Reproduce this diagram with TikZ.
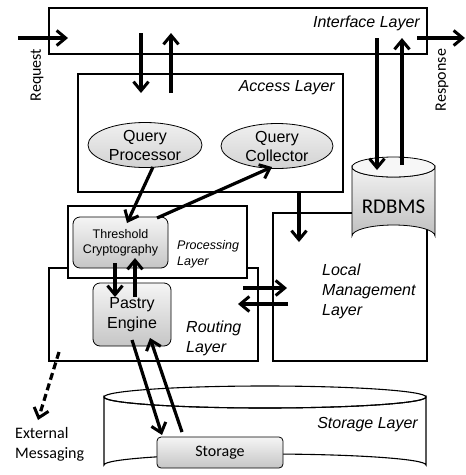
\documentclass[tikz,border=0pt]{standalone}
\usepackage{fontspec}
\setmainfont{Liberation Sans}
\newfontfamily\calfont{Carlito}
\usetikzlibrary{arrows.meta,shapes.geometric}
\begin{document}
\begin{tikzpicture}[x=1pt,y=-1pt,
  box/.style={draw,line width=1.1pt,fill=white,inner sep=0pt},
  grad/.style={draw,line width=0.8pt,rounded corners=7pt,top color=gray!8,bottom color=gray!45,inner sep=0pt,align=center},
  oval/.style={ellipse,draw,line width=0.8pt,top color=gray!12,bottom color=gray!35,inner sep=0pt,align=center,font=\fontsize{16}{19}\selectfont},
  lbl/.style={font=\fontsize{16}{20}\selectfont\itshape,inner sep=0pt,align=left},
  clbl/.style={font=\calfont\fontsize{16}{20}\selectfont,inner sep=0pt},
  arr/.style={line width=3.2pt,-{Straight Barb[length=9pt,width=15pt,line width=3pt]}},
]
\useasboundingbox (0,0) rectangle (466,475);

% layers
\node[box,minimum width=378pt,minimum height=46pt] (iface) at (238,31) {};
\node[lbl,anchor=east] (ifacel) at (420,23) {Interface Layer};
\node[box,minimum width=265pt,minimum height=118pt] (access) at (210.5,133) {};
\node[lbl,anchor=east] (accessl) at (335,88) {Access Layer};
\node[oval,minimum width=114pt,minimum height=45pt] (qp) at (145,145) {Query\\Processor};
\node[oval,minimum width=112pt,minimum height=45pt] (qc) at (277,146) {Query\\Collector};

\node[box,minimum width=154pt,minimum height=148pt] (local) at (350,287) {};
\node[lbl,anchor=west] (locall) at (322,291) {Local\\Management\\Layer};

% RDBMS cylinder
\path[draw,line width=0.8pt,top color=gray!10,bottom color=gray!50]
  (352,167) -- (352,236) arc[start angle=180,end angle=0,x radius=41.5pt,y radius=11pt]
  -- (435,167) arc[start angle=0,end angle=-180,x radius=41.5pt,y radius=10pt] -- cycle;
\draw[line width=0.8pt,fill=gray!6] (393.5,167) ellipse[x radius=41.5pt,y radius=10pt];
\node[font=\calfont\fontsize{21}{24}\selectfont,inner sep=0pt] (rdbms) at (393.5,207) {RDBMS};

\node[box,minimum width=209pt,minimum height=93pt] (routing) at (153.5,314.5) {};
\node[lbl,anchor=west] (routingl) at (186,338) {Routing\\Layer};
\node[box,minimum width=179pt,minimum height=72pt] (proc) at (157.5,242) {};
\node[lbl,anchor=west,font=\fontsize{12.5}{16}\selectfont\itshape] (procl) at (177,254) {Processing\\Layer};
\node[grad,minimum width=95pt,minimum height=51pt,font=\fontsize{12.5}{15}\selectfont] (tc) at (120.5,242.5) {Threshold\\Cryptography};
\node[grad,minimum width=78pt,minimum height=63pt,font=\fontsize{16}{20}\selectfont] (pe) at (132,314.5) {Pastry\\Engine};

% storage cylinder
\path[draw,line width=1.1pt,fill=white]
  (104,397) -- (104,465) arc[start angle=180,end angle=0,x radius=161pt,y radius=11pt]
  -- (426,397) arc[start angle=0,end angle=-180,x radius=161pt,y radius=11pt] -- cycle;
\draw[line width=1.1pt] (265,397) ellipse[x radius=161pt,y radius=11pt];
\node[lbl,anchor=east] (storl) at (418,425) {Storage Layer};
\node[grad,rounded corners=4pt,minimum width=126pt,minimum height=31pt,font=\calfont\fontsize{16}{20}\selectfont] (st) at (220,452.5) {Storage};

% external labels
\node[clbl,rotate=90] (req) at (37,75) {Request};
\node[clbl,rotate=90] (resp) at (442,80) {Response};
\node[clbl,anchor=north west,align=left,font=\calfont\fontsize{16}{20}\selectfont] (ext) at (15,427) {External\\Messaging};

% coordinates
\coordinate (reqA) at (18,38);  \coordinate (reqB) at (68,38);
\coordinate (respA) at (417,38); \coordinate (respB) at (465,38);
\coordinate (d1a) at (141,33); \coordinate (d1b) at (141,93);
\coordinate (u1a) at (171,93); \coordinate (u1b) at (171,33);
\coordinate (d2a) at (377,38); \coordinate (d2b) at (377,170);
\coordinate (u2a) at (402,165); \coordinate (u2b) at (402,38);
\coordinate (qpA) at (153,167); \coordinate (tcB) at (127,223);
\coordinate (tcA) at (157,218); \coordinate (qcB) at (272,167);
\coordinate (d3a) at (299,193); \coordinate (d3b) at (299,242);
\coordinate (d4a) at (115,263); \coordinate (d4b) at (115,297);
\coordinate (u4a) at (135,297); \coordinate (u4b) at (135,258);
\coordinate (rA) at (243,288); \coordinate (rB) at (287,288);
\coordinate (lA) at (288,304); \coordinate (lB) at (238,304);
\coordinate (pA) at (132,340); \coordinate (sB) at (162,435);
\coordinate (sA) at (182,432); \coordinate (pB) at (150,338);
\coordinate (eA) at (59,352); \coordinate (eB) at (38,420);

\draw[arr] (reqA) -- (reqB);
\draw[arr] (respA) -- (respB);
\draw[arr] (d1a) -- (d1b);
\draw[arr] (u1a) -- (u1b);
\draw[arr] (d2a) -- (d2b);
\draw[arr] (u2a) -- (u2b);
\draw[arr] (qpA) -- (tcB);
\draw[arr] (tcA) -- (qcB);
\draw[arr] (d3a) -- (d3b);
\draw[arr] (d4a) -- (d4b);
\draw[arr] (u4a) -- (u4b);
\draw[arr] (rA) -- (rB);
\draw[arr] (lA) -- (lB);
\draw[arr] (pA) -- (sB);
\draw[arr] (sA) -- (pB);
\draw[arr,dash pattern=on 7pt off 4pt] (eA) -- (eB);
\end{tikzpicture}
\end{document}
